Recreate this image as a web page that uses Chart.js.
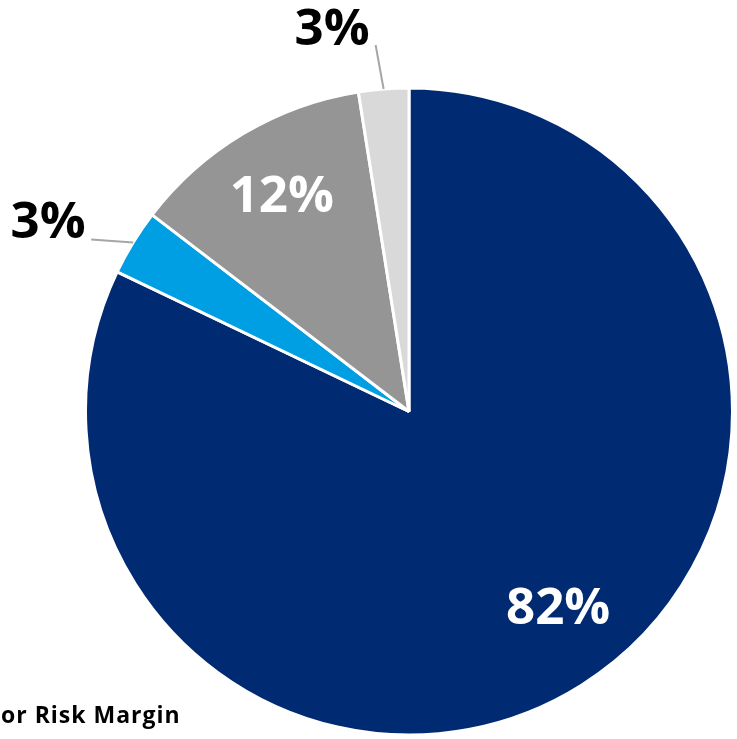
<!DOCTYPE html>
<html>
<head>
<meta charset="utf-8">
<script src="https://cdn.jsdelivr.net/npm/chart.js@4/dist/chart.umd.min.js"></script>
<style>
  html, body { margin: 0; padding: 0; background: #fff; }
  #pieCanvas { display: block; }
</style>
</head>
<body>
<canvas id="pieCanvas" width="737" height="739"></canvas>
<script>
(function () {
  'use strict';

  // Slice shares, clockwise from 12 o'clock
  const categories = ['Core', 'Other', 'Secondary', 'Minor'];
  const shares = [82.1, 3.3, 12.1, 2.5];
  const sliceColors = ['#002B73', '#009FE3', '#959595', '#D9D9D9'];
  const legendFragment = 'or Risk Margin';

  // How each slice label sits: inside the slice, or outside with a leader line
  const labelStyle = [
    { inside: true, radius: 0.757, shift: -5.3, color: '#FFFFFF' },
    { inside: false, line: [-42, -3], text: [-43, -20], color: '#000000' },
    { inside: true, radius: 0.78, shift: 0.5, color: '#FFFFFF' },
    { inside: false, line: [-8, -44], text: [-43.5, -18], color: '#000000' }
  ];

  const FONT = '"Open Sans", "Liberation Sans", sans-serif';
  const SIZE = 51;

  const sliceLabels = {
    id: 'sliceLabels',
    afterDatasetsDraw(chart) {
      const ctx = chart.ctx;
      const arcs = chart.getDatasetMeta(0).data;
      ctx.save();
      ctx.font = 'bold ' + SIZE + 'px ' + FONT;
      ctx.textAlign = 'center';
      ctx.textBaseline = 'alphabetic';
      arcs.forEach((arc, i) => {
        const st = labelStyle[i];
        const mid = (arc.startAngle + arc.endAngle) / 2;
        const text = Math.round(shares[i]) + '%';
        let cx, cy;
        if (st.inside) {
          const a = mid + st.shift * Math.PI / 180;
          const r = arc.outerRadius * st.radius;
          cx = arc.x + r * Math.cos(a);
          cy = arc.y + r * Math.sin(a);
        } else {
          const sx = arc.x + arc.outerRadius * Math.cos(mid);
          const sy = arc.y + arc.outerRadius * Math.sin(mid);
          const ex = sx + st.line[0];
          const ey = sy + st.line[1];
          ctx.strokeStyle = '#A6A6A6';
          ctx.lineWidth = 2;
          ctx.beginPath();
          ctx.moveTo(sx, sy);
          ctx.lineTo(ex, ey);
          ctx.stroke();
          cx = ex + st.text[0];
          cy = ey + st.text[1];
        }
        ctx.fillStyle = st.color;
        ctx.fillText(text, cx, cy + SIZE * 0.357);
      });

      // cut-off legend entry in the lower left
      ctx.textAlign = 'left';
      ctx.fillStyle = '#000000';
      ctx.font = 'bold 23px ' + FONT;
      ctx.letterSpacing = '1px';
      ctx.fillText(legendFragment, 1, 723);
      ctx.restore();
    }
  };

  new Chart(document.getElementById('pieCanvas'), {
    type: 'pie',
    data: {
      labels: categories,
      datasets: [{
        data: shares,
        backgroundColor: sliceColors,
        borderColor: '#FFFFFF',
        borderWidth: 3
      }]
    },
    options: {
      responsive: false,
      animation: false,
      devicePixelRatio: 1,
      layout: { padding: { left: 84, right: 3, top: 86, bottom: 2 } },
      plugins: {
        legend: { display: false },
        tooltip: { enabled: false }
      }
    },
    plugins: [sliceLabels]
  });
})();
</script>
</body>
</html>
